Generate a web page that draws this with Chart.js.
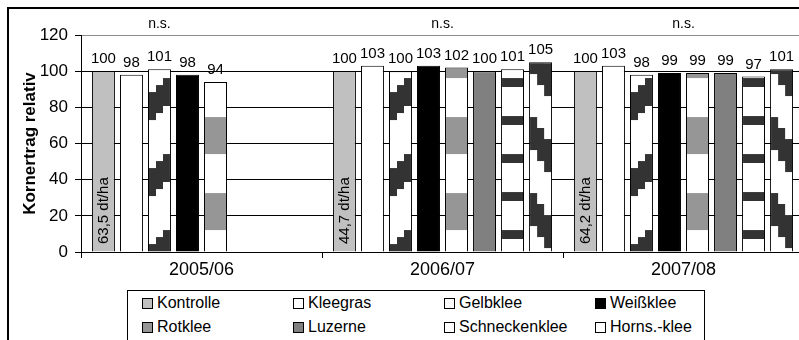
<!DOCTYPE html>
<html>
<head>
<meta charset="utf-8">
<script src="https://cdn.jsdelivr.net/npm/chart.js@4"></script>
<style>
html, body { margin: 0; padding: 0; background: #fff; overflow: hidden; }
body { width: 799px; height: 340px; position: relative; font-family: "Liberation Sans", Arial, sans-serif; }
#wrap { position: absolute; left: 0; top: 0; width: 812px; height: 340px; }
#frame { position: absolute; left: 7px; top: 7px; width: 900px; height: 400px; border-left: 2px solid #000; border-top: 2px solid #000; pointer-events: none; }
#legend { position: absolute; left: 127px; top: 290px; width: 576px; height: 80px; border: 1px solid #000; background: #fff; }
.item { position: absolute; display: flex; align-items: center; font-size: 16px; line-height: 18px; white-space: nowrap; color: #000; }
.box { width: 9px; height: 9px; border: 1px solid #000; margin-right: 4px; }
</style>
</head>
<body>
<div id="wrap"><canvas id="chart"></canvas></div>
<div id="frame"></div>
<div id="legend"></div>
<script>
// data
const years = ['2005/06', '2006/07', '2007/08'];
const kontrolle = [100, 100, 100];
const kleegras = [98, 103, 103];
const gelbklee = [101, 100, 98];
const weissklee = [98, 103, 99];
const rotklee = [94, 102, 99];
const luzerne = [null, 100, 99];
const schneckenklee = [null, 101, 97];
const hornsklee = [null, 105, 101];
const seriesNames = ['Kontrolle', 'Kleegras', 'Gelbklee', 'Weißklee', 'Rotklee', 'Luzerne', 'Schneckenklee', 'Horns.-klee'];
const kontrolleAbs = ['63,5 dt/ha', '44,7 dt/ha', '64,2 dt/ha'];
const signif = ['n.s.', 'n.s.', 'n.s.'];
const yTicks = [0, 20, 40, 60, 80, 100, 120];

// styles
const fills = ['#c0c0c0', '#ffffff', 'gelb', '#000000', 'rot', '#808080', 'schnecken', 'horns'];
const legendColors = ['#c0c0c0', '#ffffff', '#fbfbfb', '#000000', '#969696', '#808080', '#ffffff', '#ffffff'];
const FONT = '"Liberation Sans", Arial, sans-serif';

const allSeries = [kontrolle, kleegras, gelbklee, weissklee, rotklee, luzerne, schneckenklee, hornsklee];

function makePattern(ctx, kind, left, w, y0) {
  const tw = Math.max(1, Math.ceil(w));
  const th = kind === 'schnecken' ? 38 : 76;
  const c = document.createElement('canvas');
  c.width = tw; c.height = th;
  const g = c.getContext('2d');
  g.fillStyle = '#fff';
  g.fillRect(0, 0, tw, th);
  const band = (x, y, bw, h, col) => {
    g.fillStyle = col;
    g.fillRect(x, y, bw, h);
    g.fillRect(x, y - th, bw, h);
  };
  if (kind === 'rot') band(0, 17, tw, 37, '#969696');
  if (kind === 'schnecken') band(0, 16, tw, 9, '#333');
  if (kind === 'gelb' || kind === 'horns') {
    const cw = w / 3;
    for (let j = 0; j < 3; j++) {
      const col = kind === 'gelb' ? 2 - j : j;
      const x0 = Math.round(col * cw), x1 = Math.round((col + 1) * cw);
      const y = kind === 'gelb' ? 54 + j * 7 : 17 + j * 11;
      const h = kind === 'gelb' ? 28 : 33;
      band(x0, y, x1 - x0, h, '#333');
    }
  }
  const p = ctx.createPattern(c, 'repeat');
  p.setTransform(new DOMMatrix([1, 0, 0, 1, left, y0]));
  return p;
}

const labelsPlugin = {
  id: 'labels',
  afterDatasetsDraw(chart) {
    const ctx = chart.ctx;
    const y0 = chart.scales.y.getPixelForValue(0);
    ctx.save();
    ctx.fillStyle = '#000';
    ctx.textAlign = 'center';
    ctx.textBaseline = 'alphabetic';
    ctx.font = '15px ' + FONT;
    chart.data.datasets.forEach((ds, i) => {
      chart.getDatasetMeta(i).data.forEach((el, j) => {
        const v = ds.data[j];
        if (v == null) return;
        ctx.fillText(String(v), el.x, el.y - 8);
      });
    });
    chart.getDatasetMeta(0).data.forEach((el, j) => {
      ctx.save();
      ctx.translate(el.x, y0 - 8);
      ctx.rotate(-Math.PI / 2);
      ctx.textAlign = 'left';
      ctx.textBaseline = 'middle';
      ctx.fillText(kontrolleAbs[j], 0, 0);
      ctx.restore();
    });
    ctx.font = '14px ' + FONT;
    years.forEach((_, j) => {
      let lo = Infinity, hi = -Infinity;
      chart.data.datasets.forEach((ds, i) => {
        if (ds.data[j] == null) return;
        const el = chart.getDatasetMeta(i).data[j];
        lo = Math.min(lo, el.x - el.width / 2);
        hi = Math.max(hi, el.x + el.width / 2);
      });
      ctx.fillText(signif[j], (lo + hi) / 2, 28);
    });
    ctx.restore();
  }
};

const chart = new Chart(document.getElementById('chart'), {
  type: 'bar',
  data: {
    labels: years,
    datasets: seriesNames.map((name, i) => ({
      label: name,
      data: allSeries[i],
      backgroundColor: fills[i].startsWith('#') ? fills[i] : '#fff',
      borderColor: '#000',
      borderWidth: 1,
      categoryPercentage: 0.93,
      barPercentage: 0.82
    }))
  },
  options: {
    responsive: true,
    maintainAspectRatio: false,
    animation: false,
    layout: { padding: { left: 0, right: 8, top: 35, bottom: 48 } },
    plugins: { legend: { display: false }, tooltip: { enabled: false } },
    scales: {
      x: {
        grid: { offset: true, drawOnChartArea: false, color: '#000', tickLength: 6 },
        border: { display: true, color: '#000', width: 1 },
        ticks: { color: '#000', padding: 1, font: { family: FONT, size: 18 } },
        afterFit: (s) => { s.height = 40; }
      },
      y: {
        min: yTicks[0],
        max: yTicks[yTicks.length - 1],
        ticks: { stepSize: yTicks[1] - yTicks[0], color: '#000', padding: 7, font: { family: FONT, size: 17 } },
        grid: {
          color: (c) => (c.tick && c.tick.value === yTicks[yTicks.length - 1]) ? '#8c8c8c' : '#000',
          tickColor: '#000',
          tickLength: 6
        },
        border: { display: true, color: '#000', width: 1 },
        title: {
          display: true,
          text: 'Kornertrag relativ',
          color: '#000',
          font: { family: FONT, size: 17, weight: 'bold', lineHeight: 1.2 },
          padding: { top: 20, bottom: 0 }
        },
        afterFit: (s) => { s.width = 81; }
      }
    }
  },
  plugins: [labelsPlugin]
});

// patterned fills, aligned on each bar
const y0 = chart.scales.y.getPixelForValue(0);
chart.data.datasets.forEach((ds, i) => {
  if (fills[i].startsWith('#')) return;
  const meta = chart.getDatasetMeta(i);
  ds.backgroundColor = meta.data.map((el) => {
    const w = el.width || 1;
    return makePattern(chart.ctx, fills[i], el.x - w / 2, w, y0);
  });
});
chart.update('none');

// legend box
const legend = document.getElementById('legend');
seriesNames.forEach((name, i) => {
  const item = document.createElement('div');
  item.className = 'item';
  item.style.left = (14 + (i % 4) * 151) + 'px';
  item.style.top = (3 + Math.floor(i / 4) * 24) + 'px';
  const box = document.createElement('span');
  box.className = 'box';
  box.style.background = legendColors[i];
  item.appendChild(box);
  item.appendChild(document.createTextNode(name));
  legend.appendChild(item);
});
</script>
</body>
</html>
